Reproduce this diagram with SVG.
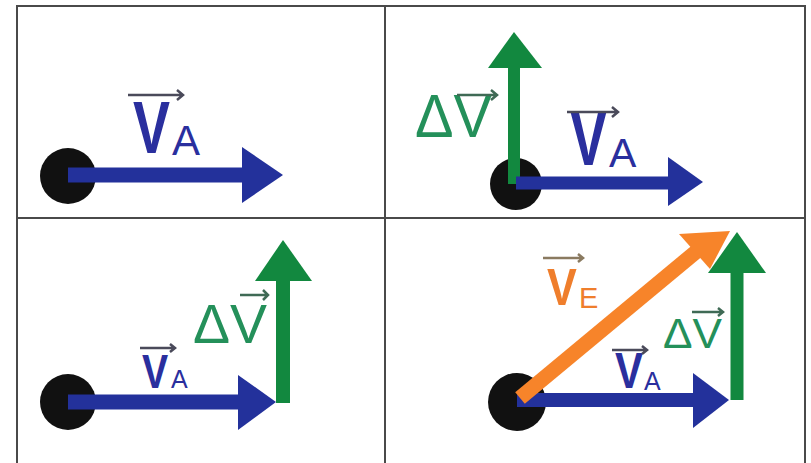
<svg xmlns="http://www.w3.org/2000/svg" width="811" height="463" viewBox="0 0 811 463">
<style>
.grid{fill:none;stroke:#4a4a4a;stroke-width:2}
.dot{fill:#111}
.blue{stroke:#23319b;fill:none}
.blueh{fill:#23319b}
.green{stroke:#12883f;fill:none}
.greenh{fill:#12883f}
.orange{stroke:#f7842a;fill:none}
.orangeh{fill:#f7842a}
.lbl{font-family:"Liberation Sans",Arial,sans-serif}
.tb{fill:#2a2f9e}
.tg{fill:#24905a}
.to{fill:#ef7e2c}
.big{font-weight:bold}
.ol{fill:none;stroke:#4a4a5a;stroke-width:2.5}
</style>
<rect width="811" height="463" fill="#fff"/>
<g id="grid">
<rect class="grid" x="17" y="6" width="788" height="470"/>
<line class="grid" x1="385" y1="6" x2="385" y2="470"/>
<line class="grid" x1="17" y1="218" x2="805" y2="218"/>
</g>
<g id="panel1">
<circle class="dot" cx="68" cy="176" r="28"/>
<line class="blue" x1="68" y1="175" x2="244" y2="175" stroke-width="15"/>
<polygon class="blueh" points="242,147 283,175 242,203"/>
<text class="lbl tb big" transform="translate(133,153) scale(0.75,1)" font-size="74">V</text>
<text class="lbl tb" x="172" y="155" font-size="42">A</text>
<path class="ol" d="M128 95 H183 M177 90 L183 95 L177 100"/>
</g>
<g id="panel2">
<circle class="dot" cx="516" cy="184" r="26"/>
<line class="green" x1="514" y1="184" x2="514" y2="66" stroke-width="12"/>
<polygon class="greenh" points="488,68 514,32 542,68"/>
<line class="blue" x1="516" y1="183" x2="670" y2="183" stroke-width="13"/>
<polygon class="blueh" points="668,157 703,182 668,206"/>
<text class="lbl tg" x="415" y="137" font-size="61" textLength="77" lengthAdjust="spacingAndGlyphs">ΔV</text>
<path class="ol" d="M457 95 H497 M491 90 L497 95 L491 100" style="stroke:#3f6a55"/>
<text class="lbl tb big" transform="translate(570,165) scale(0.72,1)" font-size="77">V</text>
<text class="lbl tb" x="609" y="167" font-size="41">A</text>
<path class="ol" d="M567 112 H618 M612 107 L618 112 L612 117"/>
</g>
<g id="panel3">
<circle class="dot" cx="68" cy="402" r="28"/>
<line class="blue" x1="68" y1="402" x2="240" y2="402" stroke-width="15"/>
<polygon class="blueh" points="238,375 276,402 238,430"/>
<line class="green" x1="283" y1="403" x2="283" y2="278" stroke-width="14"/>
<polygon class="greenh" points="255,281 283,240 312,281"/>
<text class="lbl tg" x="193" y="343" font-size="56" textLength="74" lengthAdjust="spacingAndGlyphs">ΔV</text>
<path class="ol" d="M240 295 H268 M263 290 L268 295 L263 300" style="stroke:#3f6a55"/>
<text class="lbl tb big" transform="translate(142,388) scale(0.8,1)" font-size="49">V</text>
<text class="lbl tb" x="171" y="388" font-size="25">A</text>
<path class="ol" d="M140 348 H175 M170 344 L175 348 L170 352"/>
</g>
<g id="panel4">
<circle class="dot" cx="517" cy="402" r="29"/>
<line class="blue" x1="517" y1="400" x2="695" y2="400" stroke-width="14"/>
<polygon class="blueh" points="693,373 729,400 693,428"/>
<line class="green" x1="737" y1="400" x2="737" y2="270" stroke-width="13"/>
<polygon class="greenh" points="708,273 737,232 766,273"/>
<line class="orange" x1="520" y1="398" x2="697" y2="251" stroke-width="15"/>
<polygon class="orangeh" points="679,234 730,231 710,269"/>
<text class="lbl to big" transform="translate(547,305) scale(0.86,1)" font-size="52">V</text>
<text class="lbl to" x="579" y="308" font-size="29">E</text>
<path class="ol" d="M543 258 H583 M578 254 L583 258 L578 262" style="stroke:#8a7a60"/>
<text class="lbl tg" x="663" y="348" font-size="43" textLength="59" lengthAdjust="spacingAndGlyphs">ΔV</text>
<path class="ol" d="M692 312 H723 M718 308 L723 312 L718 316" style="stroke:#3f6a55"/>
<text class="lbl tb big" transform="translate(615,388) scale(0.84,1)" font-size="50">V</text>
<text class="lbl tb" x="644" y="390" font-size="25">A</text>
<path class="ol" d="M612 350 H647 M642 346 L647 350 L642 354"/>
</g>
</svg>
